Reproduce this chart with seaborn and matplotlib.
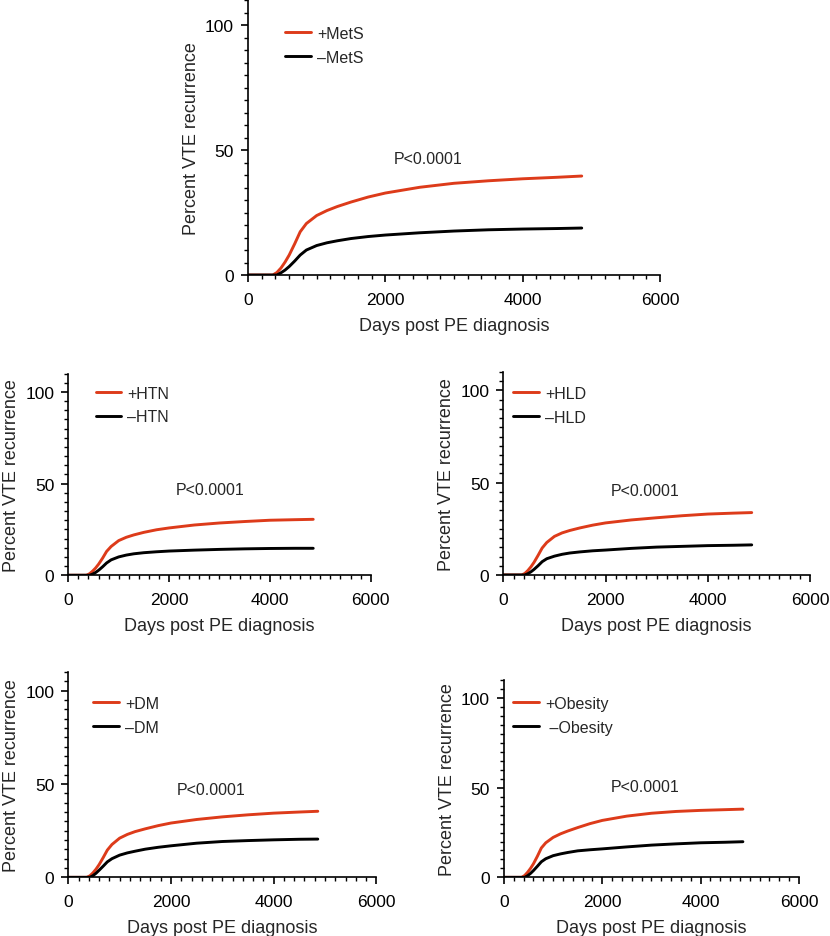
import matplotlib
matplotlib.use("Agg")
import matplotlib.pyplot as plt
import pandas as pd
import seaborn as sns
from matplotlib.ticker import MultipleLocator

# --- data (days post diagnosis vs. percent recurrence) ---
days = [0, 360, 420, 480, 540, 600, 680, 760, 850, 1000, 1150, 1300, 1500,
        1750, 2000, 2500, 3000, 3500, 4000, 4500, 4860]

mets_pos = [0, 0, 1.0, 2.8, 5.2, 8.0, 12.5, 17.3, 20.6, 23.8, 25.8, 27.4, 29.2,
            31.2, 32.8, 35.1, 36.7, 37.7, 38.5, 39.1, 39.6]
mets_neg = [0, 0, 0, 0.9, 2.0, 3.4, 5.6, 8.0, 10.0, 11.8, 12.9, 13.7, 14.6,
            15.4, 16.0, 16.9, 17.6, 18.1, 18.4, 18.6, 18.8]

htn_pos = [0, 0, 0.8, 2.2, 3.9, 6.0, 9.3, 13.0, 15.7, 18.9, 20.7, 22.0, 23.4,
           24.8, 25.8, 27.4, 28.5, 29.3, 30.0, 30.3, 30.5]
htn_neg = [0, 0, 0, 0.6, 1.5, 2.7, 4.6, 6.7, 8.4, 10.0, 11.0, 11.7, 12.3,
           12.8, 13.2, 13.7, 14.1, 14.4, 14.6, 14.7, 14.7]

hld_pos = [0, 0, 0.8, 2.4, 4.4, 6.8, 10.6, 14.6, 17.6, 20.9, 22.8, 24.1, 25.5,
           27.0, 28.2, 29.8, 31.0, 32.1, 33.0, 33.5, 33.8]
hld_neg = [0, 0, 0, 0.7, 1.7, 3.0, 5.0, 7.2, 8.8, 10.2, 11.2, 11.9, 12.5,
           13.1, 13.5, 14.4, 15.1, 15.5, 15.9, 16.1, 16.3]

dm_pos = [0, 0, 0.8, 2.4, 4.4, 6.8, 10.6, 14.6, 17.6, 21.0, 23.0, 24.5, 26.0,
          27.7, 29.1, 31.0, 32.4, 33.5, 34.4, 35.0, 35.4]
dm_neg = [0, 0, 0, 0.9, 2.2, 3.8, 6.0, 8.3, 10.0, 11.9, 13.1, 14.0, 15.1,
          16.1, 16.9, 18.3, 19.2, 19.7, 20.1, 20.4, 20.5]

obesity_pos = [0, 0, 1.0, 2.8, 5.0, 7.6, 11.8, 16.4, 19.3, 22.3, 24.3, 25.9, 27.8,
               30.0, 31.8, 34.2, 35.8, 36.8, 37.4, 37.8, 38.1]
obesity_neg = [0, 0, 0, 0.9, 2.2, 3.8, 6.2, 8.7, 10.4, 12.1, 13.1, 13.9, 14.8,
               15.4, 15.9, 17.0, 18.0, 18.7, 19.3, 19.6, 19.9]

panel_groups = ["MetS", "HTN", "HLD", "DM", "Obesity"]
pos_labels = ["+MetS", "+HTN", "+HLD", "+DM", "+Obesity"]
neg_labels = ["\u2013MetS", "\u2013HTN", "\u2013HLD", "\u2013DM", " \u2013Obesity"]
pos_series = [mets_pos, htn_pos, hld_pos, dm_pos, obesity_pos]
neg_series = [mets_neg, htn_neg, hld_neg, dm_neg, obesity_neg]
p_text = "P<0.0001"

# --- layout (figure fractions) ---
axes_rects = [
    (0.2988, 0.7054, 0.4964, 0.2935),
    (0.0823, 0.3850, 0.3643, 0.2153),
    (0.6064, 0.3853, 0.3695, 0.2167),
    (0.0823, 0.0626, 0.3711, 0.2191),
    (0.6072, 0.0626, 0.3554, 0.2102),
]
legend_anchor = [(0.09, 0.906), (0.09, 0.940), (0.033, 0.932), (0.081, 0.884), (0.032, 0.922)]
p_pos = [(2620, 46.7), (2820, 46.5), (2780, 46.0), (2780, 47.3), (2880, 51.0)]

RED = "#DD3B1A"
BLACK = "#000000"

sns.set_theme(style="ticks")
plt.rcParams["font.family"] = ["Liberation Sans", "DejaVu Sans"]
plt.rcParams.update({
    "axes.linewidth": 1.2,
    "xtick.major.width": 1.2, "ytick.major.width": 1.2,
    "xtick.minor.width": 1.0, "ytick.minor.width": 1.0,
    "xtick.major.size": 5, "ytick.major.size": 5,
    "xtick.minor.size": 3, "ytick.minor.size": 3,
    "xtick.color": "black", "ytick.color": "black",
    "axes.edgecolor": "black",
})

fig = plt.figure(figsize=(8.3, 9.37), dpi=100)

for i, grp in enumerate(panel_groups):
    ax = fig.add_axes(axes_rects[i])
    df = pd.DataFrame({
        "days": days * 2,
        "pct": pos_series[i] + neg_series[i],
        "group": [pos_labels[i]] * len(days) + [neg_labels[i]] * len(days),
    })
    sns.lineplot(data=df, x="days", y="pct", hue="group",
                 palette={pos_labels[i]: RED, neg_labels[i]: BLACK},
                 linewidth=2.1, ax=ax, legend=True)

    ax.set_xlim(0, 6000)
    ax.set_ylim(0, 110)
    ax.xaxis.set_major_locator(MultipleLocator(2000))
    ax.xaxis.set_minor_locator(MultipleLocator(200))
    ax.yaxis.set_major_locator(MultipleLocator(50))
    ax.yaxis.set_minor_locator(MultipleLocator(5))
    ax.tick_params(axis="x", which="major", labelsize=12.5, pad=7)
    ax.tick_params(axis="y", which="major", labelsize=12.5, pad=5)
    ax.spines["top"].set_visible(False)
    ax.spines["right"].set_visible(False)
    ax.set_xlabel("Days post PE diagnosis", fontsize=13, labelpad=7.5)
    ax.set_ylabel("Percent VTE recurrence", fontsize=13, labelpad=4)

    ax.text(p_pos[i][0], p_pos[i][1], p_text, fontsize=11.5,
            ha="center", va="center")

    ax.legend(loc="upper left", bbox_to_anchor=legend_anchor[i], frameon=False,
              fontsize=11.5, handlelength=1.6, handletextpad=0.4,
              borderpad=0, borderaxespad=0, labelspacing=0.55, title=None)

fig.savefig("out.png", dpi=100)
